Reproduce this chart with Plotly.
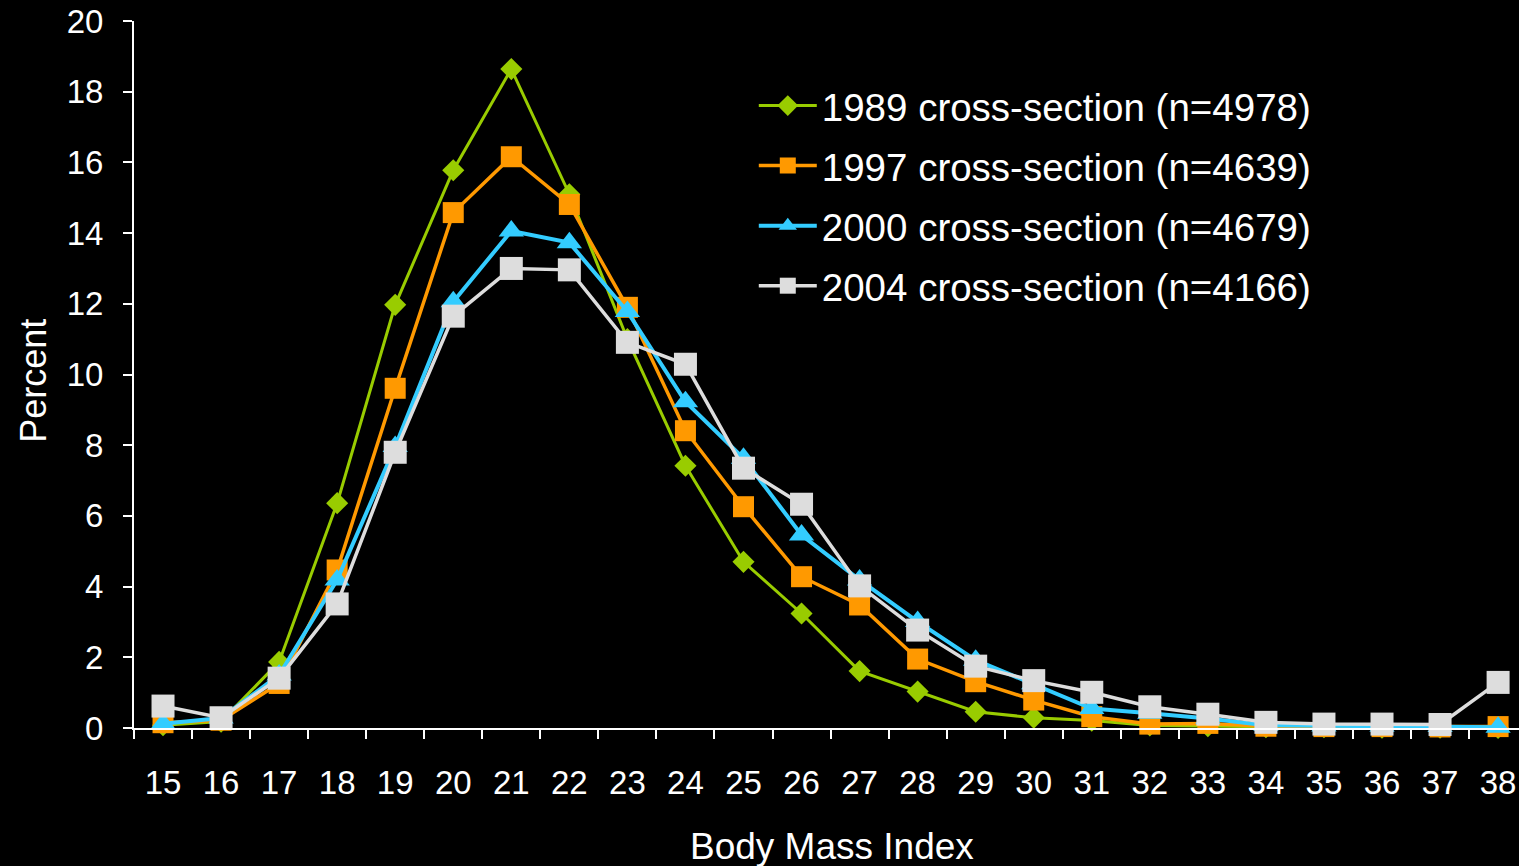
import plotly.graph_objects as go

bmi = [str(v) for v in range(15, 39)]

y1989 = [0.08, 0.18, 1.87, 6.36, 11.97, 15.78, 18.64, 15.10, 11.00, 7.42, 4.70, 3.24,
         1.61, 1.03, 0.46, 0.29, 0.21, 0.07, 0.05, 0.02, 0.02, 0.01, 0.01, 0.00]
y1997 = [0.15, 0.22, 1.26, 4.47, 9.61, 14.58, 16.16, 14.81, 11.90, 8.41, 6.26, 4.28,
         3.48, 1.95, 1.31, 0.79, 0.32, 0.11, 0.13, 0.05, 0.04, 0.04, 0.03, 0.04]
y2000 = [0.12, 0.28, 1.50, 4.19, 7.96, 12.06, 14.06, 13.73, 11.78, 9.23, 7.63, 5.46,
         4.19, 3.01, 1.92, 1.25, 0.55, 0.42, 0.27, 0.08, 0.06, 0.05, 0.04, 0.02]
y2004 = [0.62, 0.29, 1.41, 3.51, 7.80, 11.65, 13.00, 12.96, 10.91, 10.29, 7.35, 6.33,
         4.02, 2.77, 1.75, 1.34, 1.01, 0.60, 0.39, 0.16, 0.11, 0.11, 0.10, 1.29]

names = ["1989 cross-section (n=4978)", "1997 cross-section (n=4639)",
         "2000 cross-section (n=4679)", "2004 cross-section (n=4166)"]
series = [y1989, y1997, y2000, y2004]
colors = ["#99CC00", "#FF9900", "#33CCFF", "#DDDDDD"]
symbols = ["diamond", "square", "triangle-up", "square"]
sizes = [17, 21, 22, 23]
widths = [3, 3.5, 4, 3.5]

fig = go.Figure()
for i, (nm, ys) in enumerate(zip(names, series)):
    fig.add_trace(go.Scatter(
        x=bmi, y=ys, name=nm, mode="lines+markers",
        line=dict(color=colors[i], width=widths[i]),
        marker=dict(symbol=symbols[i], size=sizes[i], color=colors[i],
                    line=dict(width=0)),
        cliponaxis=False, legendgroup=f"g{i}",
    ))

font_family = "Liberation Sans, Arial, sans-serif"
fig.update_layout(
    width=1519, height=866,
    paper_bgcolor="black", plot_bgcolor="black",
    margin=dict(l=134, r=0, t=21, b=138),
    font=dict(family=font_family, color="white", size=33),
    showlegend=True,
    legend=dict(x=0.4475, y=0.925, xanchor="left", yanchor="top",
                bgcolor="rgba(0,0,0,0)", font=dict(size=38.5, color="white"),
                tracegroupgap=7, itemwidth=58),
    xaxis=dict(
        type="category", range=[-0.5, 23.36],
        showgrid=False, zeroline=False,
        showline=True, linecolor="white", linewidth=2,
        ticks="outside", ticklen=9, tickwidth=2, tickcolor="white",
        tickson="boundaries", tickfont=dict(size=33, color="white"),
        ticklabelstandoff=24,
    ),
    yaxis=dict(
        range=[0, 20], dtick=2, tick0=0,
        showgrid=False, zeroline=False,
        showline=True, linecolor="white", linewidth=2,
        ticks="outside", ticklen=9, tickwidth=2, tickcolor="white",
        tickfont=dict(size=33, color="white"),
        ticklabelstandoff=13,
    ),
    annotations=[
        dict(text="Percent", xref="paper", yref="paper", x=-0.0722, y=0.491,
             xanchor="center", yanchor="middle", textangle=-90, showarrow=False,
             font=dict(size=36, color="white")),
        dict(text="Body Mass Index", xref="paper", yref="paper", x=0.504, y=-0.1675,
             xanchor="center", yanchor="middle", showarrow=False,
             font=dict(size=37, color="white")),
    ],
)

fig.write_html(
    "out.html",
    config={"displayModeBar": False},
    post_script="document.body.style.margin='0';document.body.style.background='black';",
)
